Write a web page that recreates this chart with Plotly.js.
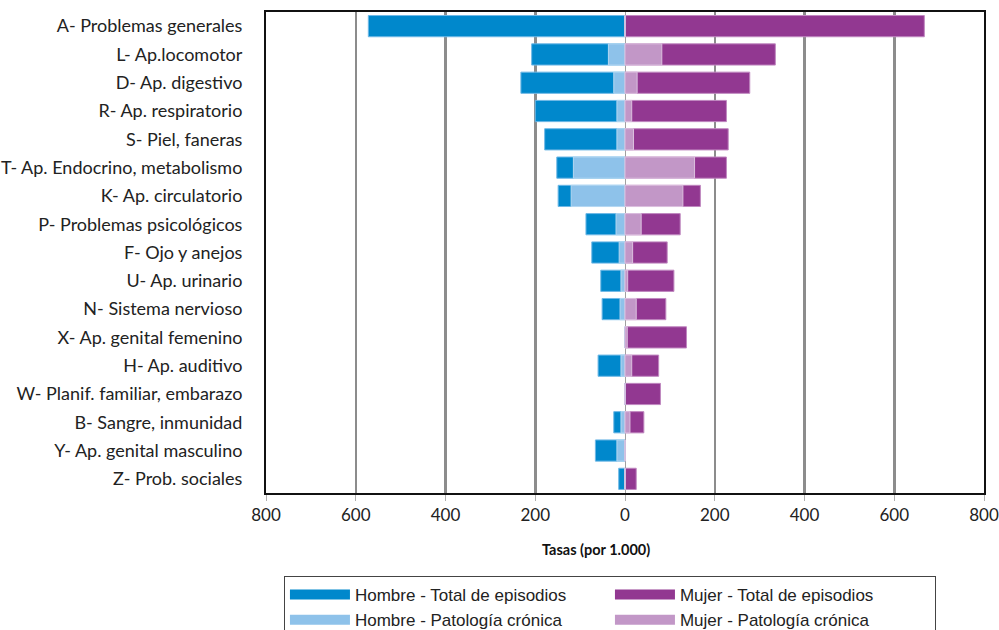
<!DOCTYPE html>
<html>
<head>
<meta charset="utf-8">
<script src="https://cdn.plot.ly/plotly-3.0.1.min.js"></script>
<style>html,body{margin:0;padding:0;background:#fff;}#chart{width:999px;height:630px;}</style>
</head>
<body>
<div id="chart"></div>
<script>
const categories = [
  "A- Problemas generales",
  "L- Ap.locomotor",
  "D- Ap. digestivo",
  "R- Ap. respiratorio",
  "S- Piel, faneras",
  "T- Ap. Endocrino, metabolismo",
  "K- Ap. circulatorio",
  "P- Problemas psicológicos",
  "F- Ojo y anejos",
  "U- Ap. urinario",
  "N- Sistema nervioso",
  "X- Ap. genital femenino",
  "H- Ap. auditivo",
  "W- Planif. familiar, embarazo",
  "B- Sangre, inmunidad",
  "Y- Ap. genital masculino",
  "Z- Prob. sociales"
];
// Hombre values are shown to the left (negative side)
const hombreTotal   = [572, 208, 232, 200, 179, 152, 149, 87, 74, 54, 51, 0, 60, 0, 25, 66, 14];
const hombreCronica = [0, 37, 25, 18, 18, 115, 120, 20, 13, 9, 11, 0, 9, 0, 9, 18, 0];
const mujerTotal    = [667, 335, 278, 226, 230, 226, 168, 123, 94, 109, 91, 137, 75, 79, 42, 0, 25];
const mujerCronica  = [0, 82, 27, 15, 19, 155, 129, 36, 17, 6, 25, 5, 15, 0, 11, 0, 0];
const tickValues = [-800, -600, -400, -200, 0, 200, 400, 600, 800];
const tickLabels = ["800", "600", "400", "200", "0", "200", "400", "600", "800"];
const seriesNames = ['Hombre - Total de episodios', 'Mujer - Total de episodios',
                     'Hombre - Patología crónica', 'Mujer - Patología crónica'];
const seriesColors = ['#0088cc', '#923891', '#8ec2ea', '#c297c7'];
const edgeColors = ['#6fb8e6', '#c088c0', '#b5d8f2', '#dcc0df'];

const neg = a => a.map(v => -v);
const seriesX = [neg(hombreTotal), mujerTotal, neg(hombreCronica), mujerCronica];

const data = [];
seriesX.forEach((xs, i) => {
  data.push({
    type: 'bar', orientation: 'h', y: categories, x: xs, name: seriesNames[i],
    legendgroup: 'g' + i, showlegend: false,
    marker: {color: seriesColors[i], line: {color: edgeColors[i], width: 1}}
  });
});
// legend entries (wide swatches) linked to the bar traces
seriesNames.forEach((n, i) => {
  data.push({
    type: 'scatter', mode: 'lines', x: [null], y: [null], name: n,
    legendgroup: 'g' + i, showlegend: true, legendrank: i + 1,
    line: {color: seriesColors[i], width: 14}, hoverinfo: 'skip'
  });
});

const layout = {
  width: 999, height: 630,
  margin: {l: 266, r: 15, t: 12, b: 137, autoexpand: false},
  paper_bgcolor: '#fff', plot_bgcolor: '#fff',
  barmode: 'overlay', bargap: 0.25,
  font: {family: 'Lato, "Open Sans", sans-serif', size: 17, color: '#222'},
  xaxis: {
    range: [-800, 800], tickvals: tickValues, ticktext: tickLabels,
    showgrid: true, gridcolor: '#8c8c8c', gridwidth: 2.5,
    zeroline: true, zerolinecolor: '#a0a0a0', zerolinewidth: 1,
    showline: true, mirror: true, linecolor: '#111', linewidth: 2,
    ticks: 'outside', ticklen: 6, tickcolor: '#b0b0b0', tickwidth: 1,
    tickfont: {family: 'Lato, sans-serif', size: 17, color: '#222'},
    fixedrange: true, automargin: false
  },
  yaxis: {
    autorange: 'reversed', type: 'category',
    showgrid: false, zeroline: false,
    showline: true, mirror: true, linecolor: '#111', linewidth: 2,
    ticks: '', ticklabelstandoff: 18,
    tickfont: {family: 'Lato, sans-serif', size: 18, color: '#222'},
    fixedrange: true, automargin: false
  },
  showlegend: true,
  legend: {
    orientation: 'h', x: 0.025, xanchor: 'left', y: -0.1726, yanchor: 'top',
    bgcolor: '#fff', bordercolor: '#444', borderwidth: 1,
    font: {family: '"Liberation Sans", Arial, sans-serif', size: 17, color: '#222'},
    entrywidth: 250, itemwidth: 60, traceorder: 'normal',
    itemclick: false, itemdoubleclick: false, tracegroupgap: 0
  },
  annotations: [{
    text: '<b>Tasas (por 1.000)</b>', xref: 'paper', yref: 'paper',
    x: 0.46, y: -0.118, xanchor: 'center', yanchor: 'middle', showarrow: false,
    font: {family: 'Lato, sans-serif', size: 14.5, color: '#111'}
  }]
};

Plotly.newPlot('chart', data, layout, {displayModeBar: false, staticPlot: true});
</script>
</body>
</html>
